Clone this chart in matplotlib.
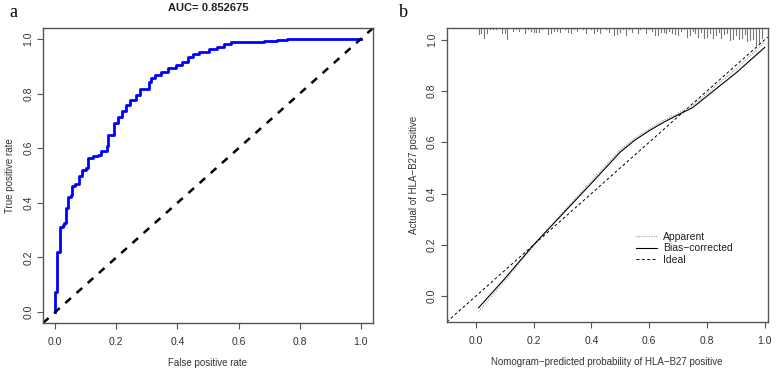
import numpy as np
import matplotlib
matplotlib.use("Agg")
import matplotlib.pyplot as plt
import matplotlib.transforms as mtransforms

plt.rcParams['font.family'] = ['Liberation Sans', 'DejaVu Sans']

# ROC curve: fpr where tpr rises, and tpr after the rise
roc_fpr = [0, 0, 0.0075, 0.016, 0.025, 0.030, 0.036, 0.042, 0.052, 0.056, 0.065, 0.078, 0.087,
           0.101, 0.108, 0.125, 0.140, 0.150, 0.168, 0.174, 0.192, 0.205, 0.220, 0.233, 0.246,
           0.266, 0.279, 0.307, 0.312, 0.326, 0.347, 0.368, 0.396, 0.416, 0.434, 0.450, 0.472,
           0.505, 0.531, 0.554, 0.575, 0.684, 0.726, 0.760, 1.0]
roc_tpr = [0, 0.073, 0.219, 0.310, 0.320, 0.328, 0.383, 0.420, 0.428, 0.463, 0.470, 0.500, 0.522,
           0.529, 0.566, 0.572, 0.577, 0.590, 0.607, 0.650, 0.693, 0.715, 0.737, 0.759, 0.777,
           0.796, 0.818, 0.844, 0.859, 0.869, 0.881, 0.895, 0.905, 0.915, 0.933, 0.944, 0.953,
           0.964, 0.972, 0.981, 0.988, 0.993, 0.997, 1.0, 1.0]
auc_text = "AUC= 0.852675"

# calibration curve
cal_x = [0.01, 0.1, 0.2, 0.3, 0.4, 0.5, 0.55, 0.6, 0.65, 0.7, 0.75, 0.8, 0.9, 1.0]
bias_corrected = [-0.045, 0.068, 0.2, 0.32, 0.44, 0.562, 0.608, 0.645, 0.678, 0.707, 0.735, 0.78, 0.87, 0.97]
apparent = [-0.06, 0.06, 0.195, 0.325, 0.45, 0.57, 0.616, 0.652, 0.686, 0.713, 0.745, 0.79, 0.885, 0.99]

# rug of predicted probabilities (x position, relative frequency)
rug_x = [0.01, 0.02, 0.03, 0.04, 0.05, 0.06, 0.07, 0.09, 0.10, 0.11, 0.13, 0.14, 0.15,
         0.17, 0.18, 0.19, 0.20, 0.21, 0.22, 0.23, 0.25, 0.26, 0.27, 0.28, 0.29,
         0.31, 0.32, 0.33, 0.34, 0.35, 0.37, 0.38, 0.40, 0.41, 0.42, 0.43, 0.45, 0.46,
         0.48, 0.49, 0.50, 0.51, 0.52, 0.53, 0.54, 0.56, 0.57,
         0.59, 0.60, 0.61, 0.62, 0.63, 0.64, 0.65, 0.66, 0.67, 0.68, 0.69, 0.70, 0.71,
         0.72, 0.73, 0.74, 0.75, 0.76, 0.77, 0.78, 0.79, 0.80, 0.81, 0.82, 0.83, 0.84,
         0.85, 0.86, 0.87, 0.88, 0.89, 0.90, 0.91, 0.92, 0.93, 0.94, 0.95, 0.96, 0.97,
         0.98, 0.99]
rug_n = [5, 4, 8, 4, 1, 1, 1, 4, 4, 9, 2, 1, 2,
         4, 1, 2, 3, 3, 3, 1, 5, 4, 2, 2, 3,
         1, 3, 4, 1, 2, 1, 4, 1, 4, 2, 4, 1, 3,
         6, 5, 3, 1, 6, 1, 3, 4, 1,
         4, 1, 2, 6, 6, 3, 3, 4, 2, 4, 5, 6, 2,
         1, 7, 6, 2, 4, 7, 3, 8, 7, 4, 8, 6, 3,
         8, 5, 4, 10, 9, 6, 9, 8, 5, 11, 10, 9, 14,
         12, 8]

ticks = [0.0, 0.2, 0.4, 0.6, 0.8, 1.0]
grey = '#555555'


def r_style(ax):
    for s in ax.spines.values():
        s.set_color(grey)
        s.set_linewidth(1.0)
    ax.set_xticks(ticks)
    ax.set_yticks(ticks)
    ax.set_xticklabels([f"{t:.1f}" for t in ticks])
    ax.set_yticklabels([f"{t:.1f}" for t in ticks])
    ax.tick_params(colors=grey, labelcolor='#333333', labelsize=7.5, length=4, width=0.8)
    ax.tick_params(axis='x', pad=6)
    ax.tick_params(axis='y', pad=3)
    for lab in ax.get_yticklabels():
        lab.set_rotation(90)
        lab.set_va('center')


fig = plt.figure(figsize=(7.77, 3.70), dpi=100)
ax1 = fig.add_axes([0.0553, 0.127, 0.4247, 0.797])
ax2 = fig.add_axes([0.575, 0.130, 0.413, 0.794])

# panel a
ax1.plot(roc_fpr, roc_tpr, drawstyle='steps-post', color='#0000ff', lw=2.0)
ax1.axline((0, 0), (1, 1), color='black', lw=1.8, ls=(0, (3, 3)))
ax1.set_xlim(-0.04, 1.04)
ax1.set_ylim(-0.04, 1.04)
r_style(ax1)
ax1.set_xlabel('False positive rate', fontsize=7, color='#333333', labelpad=8)
ax1.set_ylabel('True positive rate', fontsize=7, color='#333333', labelpad=6)
ax1.set_title(auc_text, fontsize=8, fontweight='bold', color='#222222', pad=12)

# panel b
ax2.axline((0, 0), (1, 1), color='black', lw=0.7, ls=(0, (3, 2.5)), label='Ideal')
ax2.plot(cal_x, apparent, color='#999999', lw=0.8, ls=(0, (1, 1.2)), label='Apparent')
ax2.plot(cal_x, bias_corrected, color='black', lw=0.8, label='Bias\u2212corrected')
trans = mtransforms.blended_transform_factory(ax2.transData, ax2.transAxes)
for x, n in zip(rug_x, rug_n):
    ax2.plot([x, x], [1.0, 1.0 - n * 1.2 / 294], color='#777777', lw=0.8, transform=trans)
ax2.set_xlim(-0.10, 1.01)
ax2.set_ylim(-0.10, 1.045)
r_style(ax2)
ax2.set_xlabel('Nomogram\u2212predicted probability of HLA\u2212B27 positive', fontsize=7,
               color='#333333', labelpad=8)
ax2.set_ylabel('Actual of HLA\u2212B27 positive', fontsize=7, color='#333333', labelpad=6)
h, l = ax2.get_legend_handles_labels()
order = [1, 2, 0]
ax2.legend([h[i] for i in order], [l[i] for i in order], loc='center left',
           bbox_to_anchor=(0.56, 0.25), frameon=False, fontsize=7.5,
           handlelength=2.0, handletextpad=0.6, labelspacing=0.15, labelcolor='#222222')

fig.text(0.012, 0.965, 'a', family=['Liberation Serif'], fontsize=13, va='center')
fig.text(0.513, 0.965, 'b', family=['Liberation Serif'], fontsize=13, va='center')

fig.savefig('out.png', dpi=100)
